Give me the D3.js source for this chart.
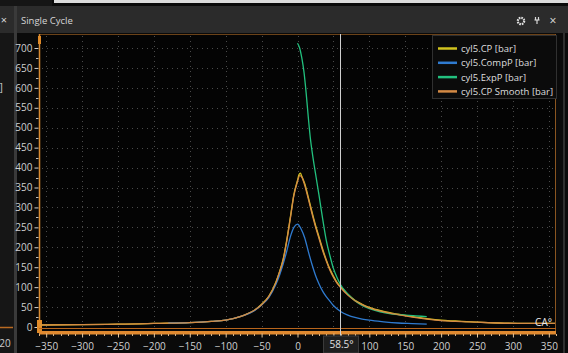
<!DOCTYPE html>
<html>
<head>
<meta charset="utf-8">
<script src="https://cdn.jsdelivr.net/npm/d3@7/dist/d3.min.js"></script>
<style>
  html, body { margin: 0; padding: 0; background: #0a0a0a; }
  svg { display: block; font-family: "Open Sans", "Noto Sans", sans-serif; }
</style>
</head>
<body>
<svg id="chart" width="568" height="353"></svg>
<script>
// Crank angle grids (degrees) and pressures (bar) for cylinder 5
const cpAngles = [-360,-300,-250,-220,-200,-150,-120,-100,-80,-70,-60,-50,-40,-30,-25,-20,-15,-10,-5,0,2,4,6,10,15,20,25,30,35,40,45,50,55,60,70,80,90,100,120,140,160,180,200,220,250,280,320,360];
const cpValues = [5,6,7,8,9,11,14,17,26,33,42,57,77,113,139,170,218,275,333,368,382,386,378,360,326,290,256,226,196,169,146,128,112,101,82,67,57,49,39,32,26,21,17,15,12,10,9,9];

const smoothAngles = [-360,-300,-250,-220,-200,-150,-120,-100,-80,-70,-60,-50,-40,-30,-25,-20,-15,-10,-5,0,3,6,10,15,20,25,30,35,40,45,50,55,60,70,80,90,100,120,140,160,180,200,220,250,280,320,360];
const smoothValues = [5,6,7,8,9,11,14,17,26,33,42,56,76,112,138,168,215,272,330,365,380,376,356,322,286,252,222,192,166,143,125,110,99,80,66,56,48,38,31,25,20,16,14,12,10,9,9];

const compAngles = [-180,-150,-120,-100,-80,-60,-50,-40,-30,-25,-20,-15,-10,-5,0,5,10,15,20,25,30,35,40,45,50,60,70,80,90,100,120,140,160,180];
const compValues = [10,11,14,17,26,41,55,74,107,130,158,190,226,250,258,246,224,190,158,130,108,90,76,65,54,39,30,24,20,17,13,10,8.5,7];

const expAngles = [0,3,6,9,12,15,18,21,25,30,35,40,45,50,55,60,70,80,90,100,115,130,150,165,180];
const expValues = [712,700,675,640,588,527,472,432,386,330,272,218,180,147,124,106,83,66,54,46,38,33,30,28,26];

const seriesNames = ["cyl5.CP [bar]", "cyl5.CompP [bar]", "cyl5.ExpP [bar]", "cyl5.CP Smooth [bar]"];
const seriesColors = ["#d2c41f", "#2f7bd0", "#22c07e", "#d48a45"];

const yTicks = d3.range(0, 701, 50);
const xTicks = d3.range(-350, 351, 50);
const cursorAngle = 58.5;

const svg = d3.select("#chart");
const W = 568, H = 353;

// window chrome
svg.append("rect").attr("width", W).attr("height", H).attr("fill", "#0a0a0a");
svg.append("rect").attr("x", 0).attr("y", 0).attr("width", 52).attr("height", 6).attr("fill", "#151515");
svg.append("rect").attr("x", 54).attr("y", 0).attr("width", W - 54).attr("height", 3).attr("fill", "#dcdcdc");
svg.append("rect").attr("x", 0).attr("y", 6).attr("width", W).attr("height", 27).attr("fill", "#2b2b2b");
// neighbouring panel on the left
svg.append("rect").attr("x", 0).attr("y", 33).attr("width", 14).attr("height", H - 33).attr("fill", "#161616");
svg.append("rect").attr("x", 14).attr("y", 6).attr("width", 3).attr("height", H - 6).attr("fill", "#3a3a3a");
svg.append("text").attr("x", 4).attr("y", 24).attr("fill", "#d8d8d8").attr("font-size", 11).attr("text-anchor", "middle").text("×");
svg.append("text").attr("x", -1).attr("y", 91).attr("fill", "#bdbdbd").attr("font-size", 10).attr("font-family", "DejaVu Sans, sans-serif").text("]");
svg.append("text").attr("x", 5).attr("y", 347).attr("fill", "#ccc").attr("font-size", 10).attr("text-anchor", "middle").text("20");
svg.append("line").attr("x1", 0).attr("x2", 13).attr("y1", 327.5).attr("y2", 327.5).attr("stroke", "#b86a22").attr("stroke-width", 1.5);

// panel title bar
svg.append("text").attr("x", 21).attr("y", 24).attr("fill", "#d6d6d6").attr("font-size", 9.5).text("Single Cycle");
// gear icon
const gear = svg.append("g").attr("transform", "translate(521,21)");
gear.append("circle").attr("r", 3.2).attr("fill", "none").attr("stroke", "#e0e0e0").attr("stroke-width", 2.2).attr("stroke-dasharray", "1.6,0.9");
gear.append("circle").attr("r", 1).attr("fill", "#2b2b2b");
// pin icon
const pin = svg.append("g").attr("transform", "translate(537,21)").attr("stroke", "#d8d8d8").attr("stroke-width", 1.2);
pin.append("line").attr("x1", -2.5).attr("x2", 2.5).attr("y1", -1).attr("y2", -1);
pin.append("line").attr("x1", -1.5).attr("x2", -1.5).attr("y1", -4).attr("y2", -1);
pin.append("line").attr("x1", 1.5).attr("x2", 1.5).attr("y1", -4).attr("y2", -1);
pin.append("line").attr("x1", 0).attr("x2", 0).attr("y1", -1).attr("y2", 3);
svg.append("text").attr("x", 553).attr("y", 25).attr("fill", "#e0e0e0").attr("font-size", 12).attr("text-anchor", "middle").text("×");
svg.append("rect").attr("x", 563).attr("y", 33).attr("width", 2).attr("height", H - 33).attr("fill", "#2e2e2e");

// scales
const x = d3.scaleLinear().domain([-360, 360]).range([39, 556]);
const y = d3.scaleLinear().domain([0, 700]).range([327, 48]);
const plotTop = 34, plotBottom = 330;

// plot background
svg.append("rect").attr("x", 39).attr("y", plotTop).attr("width", 517).attr("height", plotBottom - plotTop).attr("fill", "#040404");

// dotted grid
const grid = svg.append("g").attr("stroke", "#4a4a4a").attr("stroke-width", 1).attr("stroke-dasharray", "1,4");
grid.selectAll(".gx").data(xTicks).join("line")
  .attr("x1", d => Math.round(x(d)) + 0.5).attr("x2", d => Math.round(x(d)) + 0.5)
  .attr("y1", plotTop + 2).attr("y2", plotBottom - 2);
grid.selectAll(".gy").data(yTicks.filter(v => v > 0)).join("line")
  .attr("x1", 42).attr("x2", 554)
  .attr("y1", d => Math.round(y(d)) + 0.5).attr("y2", d => Math.round(y(d)) + 0.5);

// plot frame
svg.append("line").attr("x1", 39).attr("x2", 556).attr("y1", plotTop + 0.5).attr("y2", plotTop + 0.5).attr("stroke", "#6b4218");
svg.append("line").attr("x1", 555.5).attr("x2", 555.5).attr("y1", plotTop).attr("y2", plotBottom + 4).attr("stroke", "#8a5520");

// y axis
const yAxis = d3.axisLeft(y).tickValues(yTicks).tickSize(4).tickPadding(2).tickFormat(d3.format("d"));
const gy = svg.append("g").attr("transform", "translate(38.5,0)").call(yAxis);
gy.select(".domain").remove();
gy.selectAll("line").attr("stroke", "#d0d0d0");
gy.selectAll("text").attr("fill", "#d0d0d0").attr("font-size", 10).attr("font-family", "Open Sans, sans-serif");
const gyMinor = svg.append("g").attr("stroke", "#bdbdbd");
gyMinor.selectAll("line").data(d3.range(25, 700, 50)).join("line")
  .attr("x1", 36).attr("x2", 38.5).attr("y1", d => Math.round(y(d)) + 0.5).attr("y2", d => Math.round(y(d)) + 0.5);
svg.append("line").attr("x1", 39.5).attr("x2", 39.5).attr("y1", plotTop).attr("y2", plotBottom).attr("stroke", "#d98a30").attr("stroke-width", 1.5);
svg.append("rect").attr("x", 38).attr("y", 36).attr("width", 3).attr("height", 8).attr("fill", "#e08a28");
svg.append("rect").attr("x", 37).attr("y", 320).attr("width", 5).attr("height", 13).attr("fill", "#e08a28");

// x axis band
svg.append("line").attr("x1", 39).attr("x2", 556).attr("y1", 328.5).attr("y2", 328.5).attr("stroke", "#b8651c");
svg.append("rect").attr("x", 39).attr("y", 331).attr("width", 517).attr("height", 3.5).attr("fill", "#e08a30");
// the cursor readout sits where the 50° label would be
const xAxis = d3.axisBottom(x).tickValues(xTicks).tickSize(4).tickPadding(5)
  .tickFormat(d => (Math.abs(d - cursorAngle) < 20 ? "" : d3.format("d")(d)));
const gx = svg.append("g").attr("transform", "translate(0,333.5)").call(xAxis);
gx.select(".domain").remove();
gx.selectAll("line").attr("stroke", "#e8c9a0");
gx.selectAll("text").attr("fill", "#d0d0d0").attr("font-size", 10).attr("font-family", "Open Sans, sans-serif");
const gxMinor = svg.append("g").attr("stroke", "#d9b488");
gxMinor.selectAll("line").data(d3.range(-360, 361, 10).filter(v => v % 50 !== 0)).join("line")
  .attr("x1", d => Math.round(x(d)) + 0.5).attr("x2", d => Math.round(x(d)) + 0.5)
  .attr("y1", 334).attr("y2", 336);

// curves
const clip = svg.append("clipPath").attr("id", "plotClip").append("rect")
  .attr("x", 40).attr("y", plotTop + 1).attr("width", 515).attr("height", plotBottom - plotTop - 1);
const line = d3.line().x(d => x(d[0])).y(d => y(d[1])).curve(d3.curveMonotoneX);
const series = [
  d3.zip(cpAngles, cpValues),
  d3.zip(compAngles, compValues),
  d3.zip(expAngles, expValues),
  d3.zip(smoothAngles, smoothValues)
];
const curves = svg.append("g").attr("clip-path", "url(#plotClip)");
series.forEach((pts, i) => {
  curves.append("path").datum(pts).attr("d", line)
    .attr("fill", "none").attr("stroke", seriesColors[i])
    .attr("stroke-width", 1.3).attr("stroke-linejoin", "round");
});

// crank-angle cursor
const cx = Math.round(x(cursorAngle)) + 0.5;
svg.append("line").attr("x1", cx).attr("x2", cx).attr("y1", plotTop).attr("y2", 337).attr("stroke", "#cfcfcf").attr("stroke-width", 1);
svg.append("rect").attr("x", cx - 17).attr("y", 336).attr("width", 35).attr("height", 17).attr("fill", "#1e1e1e").attr("stroke", "#3a3a3a");
svg.append("text").attr("x", cx + 1).attr("y", 348).attr("fill", "#e0e0e0").attr("font-size", 10).attr("text-anchor", "middle").text(cursorAngle + "°");

// axis unit label
svg.append("text").attr("x", 552).attr("y", 326).attr("fill", "#ececec").attr("font-size", 10).attr("text-anchor", "end").text("CA°");

// legend
const lg = svg.append("g").attr("transform", "translate(432,35)");
lg.append("rect").attr("x", 0.5).attr("y", 0.5).attr("width", 124).attr("height", 63).attr("fill", "#0b0b0b").attr("stroke", "#303030");
seriesNames.forEach((name, i) => {
  const row = lg.append("g").attr("transform", `translate(0,${13.5 + i * 14.3})`);
  row.append("line").attr("x1", 6).attr("x2", 25).attr("y1", 0).attr("y2", 0).attr("stroke", seriesColors[i]).attr("stroke-width", 2.5);
  row.append("text").attr("x", 29).attr("y", 3.5).attr("fill", "#dedede").attr("font-size", 9.5).text(name);
});
</script>
</body>
</html>
